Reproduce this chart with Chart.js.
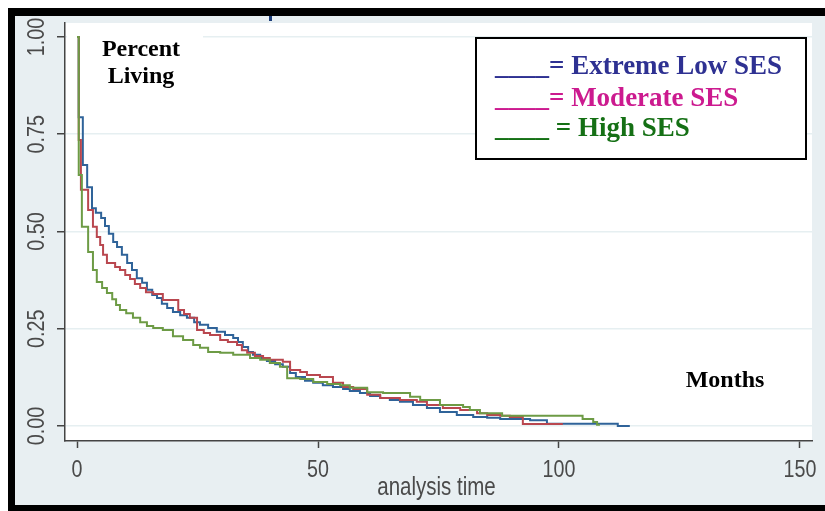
<!DOCTYPE html>
<html>
<head>
<meta charset="utf-8">
<script src="https://cdn.jsdelivr.net/npm/chart.js@4.4.1/dist/chart.umd.min.js"></script>
<style>
  html, body { margin: 0; padding: 0; background: #fff; }
  #wrap { width: 825px; height: 511px; position: relative; }
</style>
</head>
<body>
<div id="wrap"><canvas id="survChart" width="825" height="511"></canvas></div>
<script>
// Kaplan-Meier survival by SES group

const groupLabels = ['Extreme Low SES', 'Moderate SES', 'High SES'];

const extremeLowMonths = [0, 0.35, 1.2, 2.1, 3.1, 3.9, 5.0, 5.8, 6.6, 7.5, 8.3, 9.3, 10.4, 11.4, 12.4, 13.5, 14.5, 15.6, 16.6, 17.6,
  18.7, 19.9, 21.4, 22.8, 24.3, 25.5, 27.2, 29.0, 30.7, 32.4, 33.4, 34.4, 35.5, 36.5, 38.0, 39.4, 41.1, 42.7, 44.2, 45.4,
  47.3, 49.0, 51.0, 53.1, 55.2, 56.6, 58.7, 60.8, 62.9, 64.9, 67.0, 69.7, 72.6, 75.3, 78.8, 82.2, 85.1, 87.8, 94.0, 97.5,
  112.2, 114.7];
const extremeLowSurvival = [1.0, 0.794, 0.671, 0.614, 0.560, 0.548, 0.535, 0.514, 0.494, 0.473, 0.460, 0.440, 0.419, 0.401, 0.380, 0.368, 0.350, 0.337, 0.329, 0.314,
  0.303, 0.293, 0.285, 0.278, 0.267, 0.260, 0.252, 0.242, 0.234, 0.226, 0.216, 0.203, 0.190, 0.183, 0.175, 0.167, 0.159, 0.152, 0.136, 0.126,
  0.116, 0.111, 0.105, 0.100, 0.095, 0.090, 0.085, 0.077, 0.072, 0.067, 0.062, 0.054, 0.046, 0.036, 0.028, 0.023, 0.021, 0.018, 0.015, 0.006,
  0.0, 0.0];

const moderateMonths = [0, 0.35, 0.8, 2.3, 3.3, 4.1, 4.8, 5.4, 6.2, 7.9, 8.9, 10.0, 11.0, 12.0, 13.1, 14.3, 15.8, 17.8, 21.0, 22.2,
  23.4, 24.9, 26.3, 27.6, 29.7, 31.3, 33.2, 34.2, 35.3, 36.9, 38.6, 40.0, 42.7, 44.2, 46.3, 47.7, 50.4, 53.1, 55.2, 57.3,
  60.2, 62.9, 67.0, 70.5, 72.6, 75.9, 79.5, 83.0, 85.1, 87.8, 89.8, 92.5, 100.8];
const moderateSurvival = [1.0, 0.735, 0.607, 0.555, 0.512, 0.486, 0.465, 0.440, 0.419, 0.409, 0.401, 0.388, 0.378, 0.365, 0.355, 0.344, 0.339, 0.324, 0.298, 0.288,
  0.278, 0.247, 0.239, 0.234, 0.221, 0.216, 0.208, 0.195, 0.188, 0.180, 0.175, 0.170, 0.165, 0.144, 0.139, 0.131, 0.126, 0.111, 0.100, 0.095,
  0.080, 0.072, 0.067, 0.062, 0.054, 0.046, 0.041, 0.033, 0.028, 0.026, 0.023, 0.005, 0.005];

const highMonths = [0, 0.35, 1.0, 2.3, 3.3, 4.1, 5.2, 6.2, 7.3, 8.1, 8.9, 10.2, 11.6, 13.1, 14.5, 15.8, 17.8, 19.9, 22.0, 24.1,
  25.5, 27.2, 29.7, 32.4, 35.9, 38.0, 40.0, 42.1, 43.6, 46.3, 49.0, 51.9, 54.6, 56.6, 60.2, 63.5, 69.1, 71.2, 75.3, 80.1,
  81.5, 83.6, 88.2, 104.9, 107.1, 107.9, 108.5];
const highSurvival = [1.0, 0.645, 0.512, 0.447, 0.401, 0.370, 0.355, 0.342, 0.326, 0.311, 0.298, 0.290, 0.278, 0.267, 0.257, 0.252, 0.247, 0.231, 0.221, 0.208,
  0.201, 0.190, 0.188, 0.183, 0.175, 0.170, 0.162, 0.152, 0.123, 0.121, 0.113, 0.108, 0.105, 0.098, 0.087, 0.085, 0.075, 0.067, 0.054, 0.049,
  0.041, 0.033, 0.026, 0.018, 0.010, 0.003, 0.003];

const xTickValues = [0, 50, 100, 150];
const xTickLabels = ['0', '50', '100', '150'];
const yTickValues = [0, 0.25, 0.5, 0.75, 1];
const yTickLabels = ['0.00', '0.25', '0.50', '0.75', '1.00'];
const xAxisTitle = 'analysis time';

const lineColors = ['#2f6399', '#b9474f', '#6d9b45'];
const legendColors = ['#2e3192', '#cc1a8f', '#157015'];

// no narrow sans installed, so squeeze Liberation Sans horizontally
const axisFont = '"Liberation Sans", Arial, sans-serif';
const narrowScale = 0.82;
const serifFont = '"Liberation Serif", "Times New Roman", serif';
const axisGray = '#4a4a4a';

function toPoints(months, surv) {
    return months.map((t, i) => ({ x: t, y: surv[i] }));
}

function narrowText(ctx, text, x, y, rotation) {
    ctx.save();
    ctx.translate(x, y);
    if (rotation) ctx.rotate(rotation);
    ctx.scale(narrowScale, 1);
    ctx.fillText(text, 0, 0);
    ctx.restore();
}

// backgrounds, axis texts, boxes and the black frame
const framePlugin = {
    id: 'frame',
    beforeDraw(chart) {
        const { ctx, chartArea: a } = chart;
        ctx.save();
        ctx.fillStyle = '#ffffff';
        ctx.fillRect(0, 0, chart.width, chart.height);
        ctx.fillStyle = '#e8eff2';
        ctx.fillRect(15, 16, chart.width - 15, 489);
        ctx.fillStyle = '#ffffff';
        ctx.fillRect(a.left, a.top, a.right - a.left, a.bottom - a.top);
        ctx.restore();
    },
    beforeDatasetsDraw(chart) {
        const { ctx } = chart;
        ctx.save();
        // white box behind "Percent Living" hides the top gridline
        ctx.fillStyle = '#ffffff';
        ctx.fillRect(67, 24, 136, 70);
        ctx.fillStyle = '#000';
        ctx.font = 'bold 24px ' + serifFont;
        ctx.textAlign = 'center';
        ctx.textBaseline = 'alphabetic';
        ctx.fillText('Percent', 141, 56);
        ctx.fillText('Living', 141, 83);
        ctx.restore();
    },
    afterDraw(chart) {
        const { ctx } = chart;
        const xScale = chart.scales.x;
        const yScale = chart.scales.y;
        ctx.save();

        // tick labels and axis title
        ctx.fillStyle = axisGray;
        ctx.font = '24px ' + axisFont;
        ctx.textAlign = 'center';
        ctx.textBaseline = 'alphabetic';
        yTickValues.forEach((v, i) => {
            narrowText(ctx, yTickLabels[i], 44, yScale.getPixelForValue(v), -Math.PI / 2);
        });
        xTickValues.forEach((v, i) => {
            narrowText(ctx, xTickLabels[i], xScale.getPixelForValue(v), 477);
        });
        ctx.font = '25px ' + axisFont;
        narrowText(ctx, xAxisTitle, (xScale.left + xScale.right) / 2 - 2, 495);

        // Months label
        ctx.fillStyle = '#000';
        ctx.font = 'bold 24px ' + serifFont;
        ctx.fillText('Months', 725, 387);

        // legend box
        ctx.fillStyle = '#ffffff';
        ctx.fillRect(476, 38, 330, 121);
        ctx.strokeStyle = '#000';
        ctx.lineWidth = 2;
        ctx.strokeRect(476, 38, 330, 121);
        ctx.font = 'bold 27px ' + serifFont;
        ctx.textAlign = 'left';
        const legendLines = ['____= ' + groupLabels[0], '____= ' + groupLabels[1], '____ = ' + groupLabels[2]];
        const baselines = [74, 106, 136];
        legendLines.forEach((txt, i) => {
            ctx.fillStyle = legendColors[i];
            ctx.fillText(txt, 495, baselines[i]);
        });

        // black frame
        ctx.fillStyle = '#000';
        ctx.fillRect(8, 8, chart.width - 8, 8);
        ctx.fillRect(8, 8, 7, chart.height - 8);
        ctx.fillRect(8, 505, chart.width - 8, 6);
        // small stray mark at the top
        ctx.fillStyle = '#1c3d7a';
        ctx.fillRect(269, 16, 3, 5);
        ctx.restore();
    }
};

const datasets = [
    { label: groupLabels[0], data: toPoints(extremeLowMonths, extremeLowSurvival), borderColor: lineColors[0], order: 2 },
    { label: groupLabels[1], data: toPoints(moderateMonths, moderateSurvival), borderColor: lineColors[1], order: 1 },
    { label: groupLabels[2], data: toPoints(highMonths, highSurvival), borderColor: lineColors[2], order: 0 }
].map(ds => ({
    ...ds,
    borderWidth: 2,
    stepped: true,
    tension: 0,
    fill: false,
    pointRadius: 0,
    pointHoverRadius: 0
}));

new Chart(document.getElementById('survChart'), {
    type: 'line',
    data: { datasets: datasets },
    options: {
        responsive: false,
        animation: false,
        devicePixelRatio: 1,
        layout: { padding: { left: 0, top: 23, right: 13, bottom: 0 } },
        plugins: {
            legend: { display: false },
            tooltip: { enabled: false }
        },
        scales: {
            x: {
                type: 'linear',
                min: -2.5,
                max: 152.5,
                afterBuildTicks: axis => { axis.ticks = xTickValues.map(v => ({ value: v })); },
                afterFit: axis => { axis.height = 70; },
                grid: { drawOnChartArea: false, drawTicks: true, tickLength: 7, tickColor: '#444', tickWidth: 1.5 },
                border: { display: true, color: '#444', width: 1.5 },
                ticks: { display: false }
            },
            y: {
                type: 'linear',
                min: -0.0386,
                max: 1.036,
                afterBuildTicks: axis => { axis.ticks = yTickValues.map(v => ({ value: v })); },
                afterFit: axis => { axis.width = 65; },
                grid: { color: '#e6eff1', lineWidth: 1.5, drawTicks: true, tickLength: 8, tickColor: '#444', tickWidth: 1.5 },
                border: { display: true, color: '#444', width: 1.5 },
                ticks: { display: false }
            }
        }
    },
    plugins: [framePlugin]
});
</script>
</body>
</html>
